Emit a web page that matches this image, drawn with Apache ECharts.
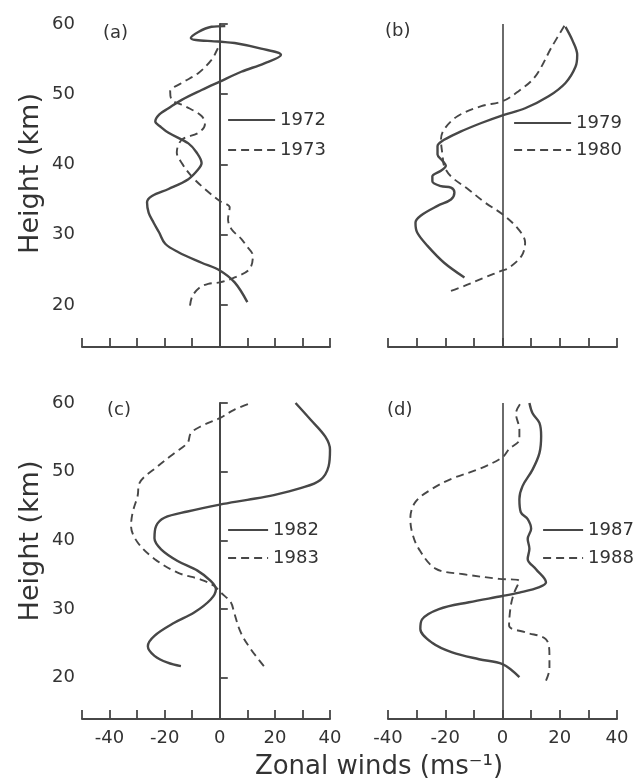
<!DOCTYPE html>
<html>
<head>
<meta charset="utf-8">
<script src="https://cdn.jsdelivr.net/npm/echarts@6/dist/echarts.min.js"></script>
<style>
  html, body { margin: 0; padding: 0; background: #fff; }
  #main { width: 642px; height: 782px; }
</style>
</head>
<body>
<div id="main"></div>
<script>
// zonal wind (m/s) vs height (km), bottom to top
var u1972 = [10, 5.4, 0, -6.6, -15, -19.8, -22, -24, -25.8, -26.4, -24.6, -18.6, -11.4, -7.8, -6.6, -8.4, -11.4, -18.6, -21.6, -23.4, -22, -18.6, -13.8, -6.6, 0, 7.8, 16.2, 22.2, 15, 5.4, -0.6, -10.5, -3, 2];
var h1972 = [20.4, 23.2, 24.9, 26, 27.5, 28.7, 30.3, 31.7, 33.1, 34.6, 35.5, 36.5, 37.9, 39.3, 40.2, 41.7, 43, 44.5, 45.4, 46.1, 47.1, 48, 49.2, 50.6, 51.8, 53.2, 54.4, 55.6, 56.5, 57.3, 57.5, 58, 59.6, 59.7];
var u1973 = [-10.8, -10, -7.5, -4.2, 0, 5.4, 10.8, 12, 9.5, 7.8, 4.2, 3, 3.6, 0, -5.4, -10.2, -13.8, -15.6, -13.8, -7.8, -5.4, -6.6, -12.6, -17.4, -18, -13.8, -7.8, -3, -1, 0];
var h1973 = [19.9, 21.2, 22.4, 23, 23.2, 23.9, 25.1, 27, 28.5, 29.4, 30.8, 32.2, 33.9, 34.8, 36.5, 38.3, 40.2, 41.7, 43.5, 44.5, 45.7, 46.9, 48.3, 49.2, 50.4, 51.6, 53, 54.9, 56.3, 57.2];

var u1979 = [-13.3, -20.4, -26.2, -29.8, -30.4, -28.6, -22.7, -18, -16.8, -18, -21.5, -24.5, -24.5, -21.5, -19.8, -20.9, -22.7, -22.7, -20.4, -14.5, -7.4, 0, 7.9, 16.1, 22, 25.5, 26.1, 24.4, 22];
var h1979 = [23.9, 26, 28.4, 30.3, 31.7, 32.7, 34.1, 35, 36, 36.7, 36.9, 37.6, 38.3, 39.1, 39.8, 40.5, 41.4, 42.6, 43.5, 44.7, 45.9, 47, 48, 49.7, 51.6, 53.9, 55.6, 57.7, 59.6];
var u1980 = [-18, -13.3, -6.2, 0, 2, 6.7, 7.9, 5.5, 0, -6.2, -12.1, -18, -20.4, -20.9, -21.5, -20.4, -15.6, -7.4, 0, 5.5, 11.4, 17.3, 22];
var h1980 = [22, 22.7, 23.9, 24.9, 25.2, 27, 28.9, 30.8, 32.9, 34.6, 36.5, 38.3, 39.8, 41.2, 43.5, 45, 46.9, 48.3, 49, 50.4, 52.5, 56.8, 60];

var u1982 = [-14.1, -18.9, -23.7, -26.1, -23.7, -16.5, -9.3, -3.3, -1.4, -3.3, -8.1, -15.3, -21.3, -23.7, -23.1, -20.1, -11.7, 0, 10, 19.6, 29.3, 36.5, 39.5, 40, 38.3, 32.9, 27.5];
var h1982 = [21.7, 22.2, 23.2, 24.6, 26.1, 28, 29.5, 31.4, 32.9, 34.1, 35.6, 37, 38.7, 40.3, 42.1, 43.3, 44.2, 45.2, 45.9, 46.6, 47.6, 48.8, 50.8, 53.2, 55.1, 57.6, 60];
var u1983 = [16, 11.2, 7.6, 5.2, 4, 0.4, -2.1, -6.9, -15.3, -23.7, -29.8, -32.2, -31.6, -29.8, -29.2, -22.5, -16.5, -11.7, -10.5, -6.9, 0, 5.2, 11.2];
var h1983 = [21.7, 24.2, 26.6, 29.5, 31, 32.4, 33.4, 34.3, 35.3, 37.3, 39.7, 42.1, 44.1, 46.5, 48.3, 50.8, 52.7, 54.2, 55.6, 56.6, 57.8, 59, 60];

var u1987 = [5.9, 0, -8.2, -17.6, -24.6, -28.7, -28.1, -22.2, -11.7, 0, 5.9, 12.9, 15.2, 11.7, 8.8, 9.4, 8.8, 10, 8.8, 6.4, 5.9, 7, 10.5, 12.9, 13.5, 12.9, 10.5, 9.4];
var h1987 = [20.1, 22, 22.7, 23.7, 25.1, 27.1, 28.5, 30, 31, 31.9, 32.4, 33.2, 33.9, 35.8, 37.3, 38.8, 40.2, 41.7, 43.1, 44.1, 46, 47.9, 50.3, 52.7, 55.2, 57.1, 58.5, 60];
var u1988 = [15.2, 16.4, 16.4, 15.2, 8.2, 2.3, 2.9, 4.1, 5.9, -1.2, -14, -23.4, -29.3, -31.6, -32.2, -30.4, -24.6, -17.6, -8.2, 0, 2.3, 5.9, 5.9, 4.7, 6.4];
var h1988 = [19.6, 21.3, 23.2, 25.6, 26.6, 27.6, 30.5, 32.4, 34.1, 34.4, 35.1, 35.9, 38.8, 41.2, 43.2, 45.6, 47.5, 49, 50.4, 52.1, 53.3, 54.7, 56.1, 58.5, 60];

var heightTicks = [20, 30, 40, 50, 60];
var windLabels = [-40, -20, 0, 20, 40];
var panelNames = ['(a)', '(b)', '(c)', '(d)'];

var ink = '#474747';
var textInk = '#333333';
var font = 'DejaVu Sans';

function pairs(u, h) {
  return u.map(function (v, i) { return [v, h[i]]; });
}

var grids = [
  { left: 82, top: 24, width: 248, height: 323 },
  { left: 388, top: 24, width: 229, height: 323 },
  { left: 82, top: 403, width: 248, height: 316 },
  { left: 388, top: 403, width: 229, height: 316 }
];
grids.forEach(function (g) { g.outerBoundsMode = 'none'; });

// shifts the rotated "Height (km)" a little above the axis middle, as in the figure
var nameShift = [24, 0, 40, 0];

var xAxes = grids.map(function (g, i) {
  var left = i % 2 === 0;
  var bottom = i >= 2;
  return {
    gridIndex: i,
    type: 'value',
    min: left ? -50 : -40,
    max: 40,
    interval: 10,
    axisLine: { lineStyle: { color: ink, width: 2 } },
    axisTick: { inside: true, length: 9, lineStyle: { color: ink, width: 1.8 } },
    axisLabel: {
      show: bottom,
      customValues: windLabels,
      margin: 10,
      color: textInk,
      fontFamily: font,
      fontSize: 18
    },
    splitLine: { show: false }
  };
});

var yAxes = grids.map(function (g, i) {
  var left = i % 2 === 0;
  return {
    gridIndex: i,
    type: 'value',
    min: 14,
    max: 60,
    name: left ? 'Height (km)' : '',
    nameLocation: 'middle',
    nameRotate: 90,
    nameGap: 38,
    nameTextStyle: {
      color: textInk,
      fontFamily: font,
      fontSize: 27,
      padding: [0, 0, 0, nameShift[i]]
    },
    axisLine: { show: left, lineStyle: { color: ink, width: 2 } },
    axisTick: { show: left, inside: true, length: 8, customValues: heightTicks, lineStyle: { color: ink, width: 1.8 } },
    axisLabel: {
      show: left,
      customValues: heightTicks,
      margin: 7,
      color: textInk,
      fontFamily: font,
      fontSize: 18
    },
    splitLine: { show: false }
  };
});

var zeroLine = {
  silent: true,
  symbol: 'none',
  label: { show: false },
  lineStyle: { color: ink, width: 1.6, type: 'solid' },
  data: [{ xAxis: 0 }]
};

function curve(name, u, h, gi, dashed, withZero) {
  var s = {
    name: name,
    type: 'line',
    xAxisIndex: gi,
    yAxisIndex: gi,
    data: pairs(u, h),
    symbol: 'none',
    smooth: 0.35,
    lineStyle: dashed
      ? { color: ink, width: 1.9, type: [8, 5] }
      : { color: ink, width: 2.4 },
    itemStyle: { color: ink },
    z: 3
  };
  if (withZero) s.markLine = zeroLine;
  return s;
}

var series = [
  curve('1972', u1972, h1972, 0, false, true),
  curve('1973', u1973, h1973, 0, true, false),
  curve('1979', u1979, h1979, 1, false, true),
  curve('1980', u1980, h1980, 1, true, false),
  curve('1982', u1982, h1982, 2, false, true),
  curve('1983', u1983, h1983, 2, true, false),
  curve('1987', u1987, h1987, 3, false, true),
  curve('1988', u1988, h1988, 3, true, false)
];

function legendAt(names, left, top, w, gap) {
  return {
    data: names,
    left: left,
    top: top,
    orient: 'vertical',
    itemWidth: w,
    itemHeight: 14,
    itemGap: gap,
    selectedMode: false,
    itemStyle: { opacity: 0 },
    lineStyle: { width: 2.2 },
    textStyle: { color: textInk, fontFamily: font, fontSize: 18 }
  };
}

var legends = [
  legendAt(['1972', '1973'], 222, 106, 47, 12),
  legendAt(['1979', '1980'], 508, 109, 57, 9),
  legendAt(['1982', '1983'], 222, 516, 40, 10),
  legendAt(['1987', '1988'], 537, 516, 40, 10)
];

var labelPos = [[103, 35], [385, 33], [107, 412], [387, 412]];
var graphics = panelNames.map(function (t, i) {
  return {
    type: 'text',
    left: labelPos[i][0],
    top: labelPos[i][1] - 11,
    style: { text: t, fill: textInk, font: '18px ' + font }
  };
});
graphics.push({
  type: 'text',
  x: 379,
  y: 767,
  style: {
    text: 'Zonal winds (ms\u207B\u00B9)',
    fill: textInk,
    font: '26px ' + font,
    align: 'center',
    verticalAlign: 'middle'
  }
});

var chart = echarts.init(document.getElementById('main'), null, { renderer: 'canvas' });
chart.setOption({
  backgroundColor: '#ffffff',
  animation: false,
  grid: grids,
  xAxis: xAxes,
  yAxis: yAxes,
  legend: legends,
  series: series,
  graphic: graphics
});
</script>
</body>
</html>
